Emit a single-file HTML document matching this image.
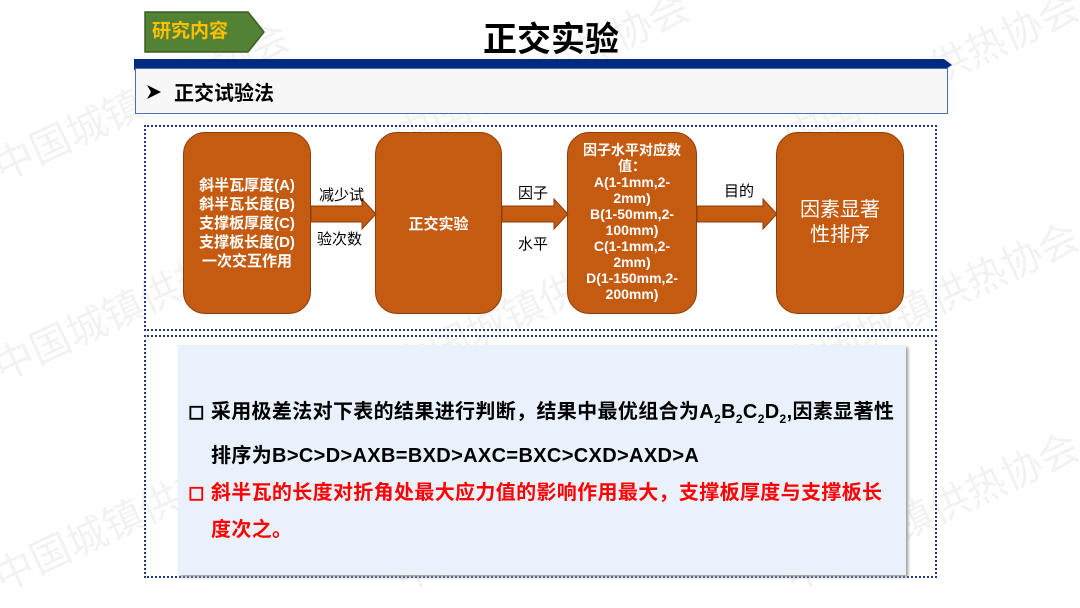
<!DOCTYPE html>
<html><head><meta charset="utf-8"><style>
*{margin:0;padding:0;box-sizing:border-box}
body{width:1080px;height:608px;background:#fff;position:relative;overflow:hidden;font-family:"Liberation Sans","Noto Sans CJK SC",sans-serif}
.a{position:absolute}
.box{position:absolute;background:#c55a11;border:1px solid #8a3d0a;border-radius:22px;color:#fff;font-weight:bold;display:flex;align-items:center;justify-content:center;text-align:center}
.lbl{position:absolute;font-size:15px;color:#000}
.wm{position:absolute;color:rgba(0,0,0,0.05);font-size:40px;transform:rotate(-25deg);white-space:nowrap}
</style></head><body>
<div class="wm" style="left:-20px;top:70px">中国城镇供热协会</div>
<div class="wm" style="left:380px;top:40px">中国城镇供热协会</div>
<div class="wm" style="left:770px;top:40px">中国城镇供热协会</div>
<div class="wm" style="left:-20px;top:270px">中国城镇供热协会</div>
<div class="wm" style="left:380px;top:270px">中国城镇供热协会</div>
<div class="wm" style="left:770px;top:270px">中国城镇供热协会</div>
<div class="wm" style="left:-20px;top:480px">中国城镇供热协会</div>
<div class="wm" style="left:380px;top:480px">中国城镇供热协会</div>
<div class="wm" style="left:770px;top:480px">中国城镇供热协会</div>

<svg class="a" style="left:140px;top:8px" width="135" height="48"><polygon points="5,4 108,4 124,24 108,44 5,44" fill="#548235" stroke="#3b5e25" stroke-width="1.5"/></svg>
<div class="a" style="left:152px;top:16px;font-size:19px;font-weight:bold;color:#ffc000">研究内容</div>
<div class="a" style="left:483px;top:12px;font-size:34px;font-weight:bold;color:#000">正交实验</div>

<svg class="a" style="left:134px;top:59px" width="820" height="12"><polygon points="0,0 810,0 818,6 810,11 0,11" fill="#002a7f"/></svg>
<div class="a" style="left:135px;top:68px;width:813px;height:46px;background:#f7f7f7;border:1px solid #4a6fb5"></div>
<svg class="a" style="left:146px;top:84px" width="16" height="16"><polygon points="1,1 15,8 1,15 5,8" fill="#000"/></svg>
<div class="a" style="left:174px;top:77px;font-size:20px;font-weight:bold">正交试验法</div>

<div class="a" style="left:144px;top:125px;width:793px;height:206px;border:2px dotted #1f3a7a"></div>
<div class="a" style="left:144px;top:335px;width:793px;height:243px;border:2px dotted #1f3a7a"></div>

<div class="box" style="left:183px;top:132px;width:128px;height:182px;font-size:15px;line-height:19px">斜半瓦厚度(A)<br>斜半瓦长度(B)<br>支撑板厚度(C)<br>支撑板长度(D)<br>一次交互作用</div>
<div class="box" style="left:375px;top:132px;width:127px;height:182px;font-size:15px">正交实验</div>
<div class="box" style="left:567px;top:132px;width:130px;height:182px;font-size:14px;line-height:16px;align-items:flex-start;padding-top:9px">因子水平对应数<br>值：<br>A(1-1mm,2-<br>2mm)<br>B(1-50mm,2-<br>100mm)<br>C(1-1mm,2-<br>2mm)<br>D(1-150mm,2-<br>200mm)</div>
<div class="box" style="left:776px;top:132px;width:128px;height:182px;font-size:20px;line-height:25px;font-weight:normal">因素显著<br>性排序</div>

<svg class="a" style="left:0;top:0" width="1080" height="608">
<g fill="#c55a11" stroke="#8a3d0a" stroke-width="1">
<polygon points="311,206 362,206 362,199 376,214 362,229 362,222 311,222"/>
<polygon points="502,206 554,206 554,199 568,214 554,229 554,222 502,222"/>
<polygon points="697,206 763,206 763,199 777,214 763,229 763,222 697,222"/>
</g></svg>
<div class="lbl" style="left:319px;top:184px">减少试</div>
<div class="lbl" style="left:317px;top:228px">验次数</div>
<div class="lbl" style="left:518px;top:182px">因子</div>
<div class="lbl" style="left:518px;top:233px">水平</div>
<div class="lbl" style="left:724px;top:180px">目的</div>

<div class="a" style="left:178px;top:345px;width:728px;height:230px;background:#e8f1fc;box-shadow:2px 2px 3px #999"></div>
<div class="a" style="left:188px;top:394px;font-size:20px;letter-spacing:0.35px;font-weight:bold;line-height:37px;color:#000;width:720px;white-space:nowrap">
<div>◻ 采用极差法对下表的结果进行判断，结果中最优组合为A<sub style="font-size:12px">2</sub>B<sub style="font-size:12px">2</sub>C<sub style="font-size:12px">2</sub>D<sub style="font-size:12px">2</sub>,因素显著性</div>
<div style="padding-left:23px">排序为B&gt;C&gt;D&gt;AXB=BXD&gt;AXC=BXC&gt;CXD&gt;AXD&gt;A</div>
<div style="color:#ff0000">◻ 斜半瓦的长度对折角处最大应力值的影响作用最大，支撑板厚度与支撑板长</div>
<div style="color:#ff0000;padding-left:23px">度次之。</div>
</div>
</body></html>
